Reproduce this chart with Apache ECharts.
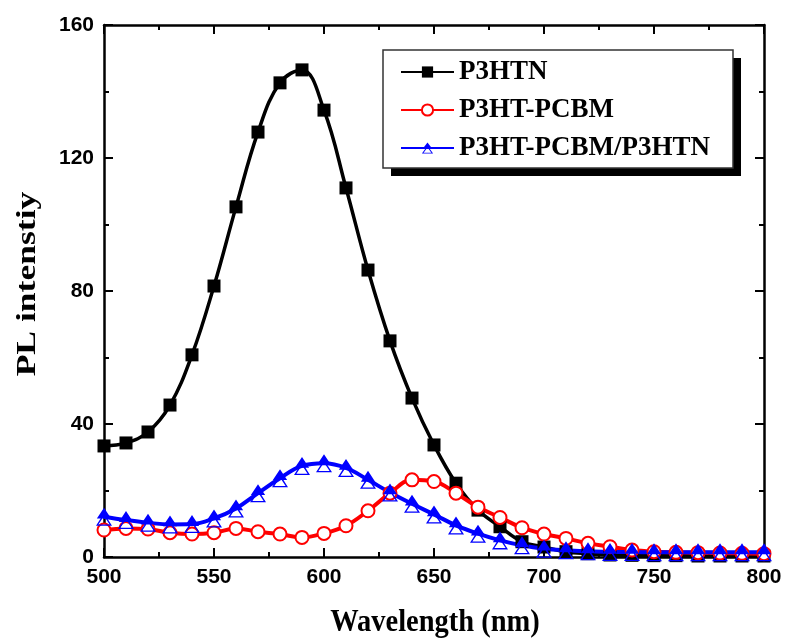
<!DOCTYPE html>
<html>
<head>
<meta charset="utf-8">
<script src="https://cdn.jsdelivr.net/npm/echarts@6/dist/echarts.min.js"></script>
<style>
html,body{margin:0;padding:0;background:#fff;}
#chart{width:785px;height:641px;}
</style>
</head>
<body>
<div id="chart"></div>
<script>
var wavelength = [500,510,520,530,540,550,560,570,580,590,600,610,620,630,640,650,660,670,680,690,700,710,720,730,740,750,760,770,780,790,800];
var p3htn = [33.4,34.3,37.6,45.7,60.8,81.5,105.3,127.8,142.6,146.5,134.4,111.0,86.3,65.0,47.8,33.7,22.2,14.1,9.1,4.6,3.0,1.6,1.0,0.6,0.5,0.4,0.4,0.3,0.3,0.3,0.3];
var p3htPcbm = [8.1,8.6,8.4,7.3,6.9,7.3,8.6,7.6,6.9,5.9,7.1,9.4,13.9,19.2,23.2,22.7,19.2,15.0,11.9,8.8,6.9,5.6,4.1,3.1,2.1,1.6,1.4,1.3,1.2,1.1,1.0];
var p3htPcbmP3htn = [12.1,11.1,10.3,9.8,9.9,11.6,14.6,19.2,23.7,27.4,28.2,26.8,23.2,19.4,16.0,12.8,9.5,7.0,5.0,3.5,2.5,2.0,1.7,1.5,1.5,1.4,1.4,1.4,1.4,1.4,1.4];
var seriesNames = ['P3HTN','P3HT-PCBM','P3HT-PCBM/P3HTN'];
var xTicks = {min:500, max:800, interval:50};
var yTicks = {min:0, max:160, interval:40};

function pairs(ys){ return wavelength.map(function(x,i){ return [x, ys[i]]; }); }

var triSymbol = 'path://M50,0L92,60L8,60ZM50,30L97,100L3,100ZM50,46L17,93L83,93Z';

var axisLineStyle = {color:'#000', width:2.5};
function xAxisCfg(pos, showLabel){
  return {
    type:'value', position:pos, min:xTicks.min, max:xTicks.max, interval:xTicks.interval,
    axisLine:{show:true, onZero:false, lineStyle:axisLineStyle},
    axisTick:{show:true, inside:true, length:9, lineStyle:{color:'#000', width:2}},
    minorTick:{show:true, splitNumber:2, length:5, lineStyle:{color:'#000', width:2}},
    axisLabel:{show:showLabel, margin:10, color:'#000', fontFamily:'Liberation Sans', fontWeight:'bold', fontSize:21},
    splitLine:{show:false}
  };
}
function yAxisCfg(pos, showLabel){
  return {
    type:'value', position:pos, min:yTicks.min, max:yTicks.max, interval:yTicks.interval,
    axisLine:{show:true, onZero:false, lineStyle:axisLineStyle},
    axisTick:{show:true, inside:true, length:9, lineStyle:{color:'#000', width:2}},
    minorTick:{show:true, splitNumber:2, length:5, lineStyle:{color:'#000', width:2}},
    axisLabel:{show:showLabel, margin:10, color:'#000', fontFamily:'Liberation Sans', fontWeight:'bold', fontSize:21},
    splitLine:{show:false}
  };
}

var chart = echarts.init(document.getElementById('chart'), null, {renderer:'canvas'});
chart.setOption({
  animation:false,
  backgroundColor:'#fff',
  grid:{left:104, right:21, top:25, bottom:84, containLabel:false},
  xAxis:[xAxisCfg('bottom', true), xAxisCfg('top', false)],
  yAxis:[yAxisCfg('left', true), yAxisCfg('right', false)],
  legend:{
    orient:'vertical', left:400, top:58, itemWidth:53, itemHeight:14, itemGap:10, padding:0, z:10,
    data:seriesNames,
    textStyle:{fontFamily:'Liberation Serif', fontWeight:'bold', fontSize:27, color:'#000', lineHeight:28}
  },
  graphic:[
    {type:'rect', z:1, shape:{x:391, y:58, width:350, height:118}, style:{fill:'#000'}},
    {type:'rect', z:2, shape:{x:383, y:50, width:350, height:118}, style:{fill:'#fff', stroke:'#333', lineWidth:1.5}},
    {type:'text', z:3, x:435, y:623, scaleX:0.89, style:{text:'Wavelength (nm)', font:'bold 32px "Liberation Serif"', textAlign:'center', textVerticalAlign:'middle', fill:'#000'}},
    {type:'text', z:3, x:28, y:284, rotation:Math.PI/2, scaleX:1.27, style:{text:'PL intenstiy', font:'bold 28px "Liberation Serif"', textAlign:'center', textVerticalAlign:'middle', fill:'#000'}}
  ],
  series:[
    {name:seriesNames[0], type:'line', smooth:0.4, data:pairs(p3htn), xAxisIndex:0, yAxisIndex:0,
     symbol:'rect', symbolSize:13, showAllSymbol:true,
     lineStyle:{color:'#000', width:3.5}, itemStyle:{color:'#000', borderWidth:0}},
    {name:seriesNames[1], type:'line', smooth:0.4, data:pairs(p3htPcbm), xAxisIndex:0, yAxisIndex:0,
     symbol:'emptyCircle', symbolSize:13, showAllSymbol:true,
     lineStyle:{color:'#ff0000', width:4}, itemStyle:{color:'#ff0000', borderColor:'#ff0000', borderWidth:1}},
    {name:seriesNames[2], type:'line', smooth:0.4, data:pairs(p3htPcbmP3htn), xAxisIndex:0, yAxisIndex:0,
     symbol:triSymbol, symbolSize:[16,18], symbolKeepAspect:false, showAllSymbol:true,
     lineStyle:{color:'#0000ff', width:4}, itemStyle:{color:'#0000ff', borderWidth:0}}
  ]
});
</script>
</body>
</html>
